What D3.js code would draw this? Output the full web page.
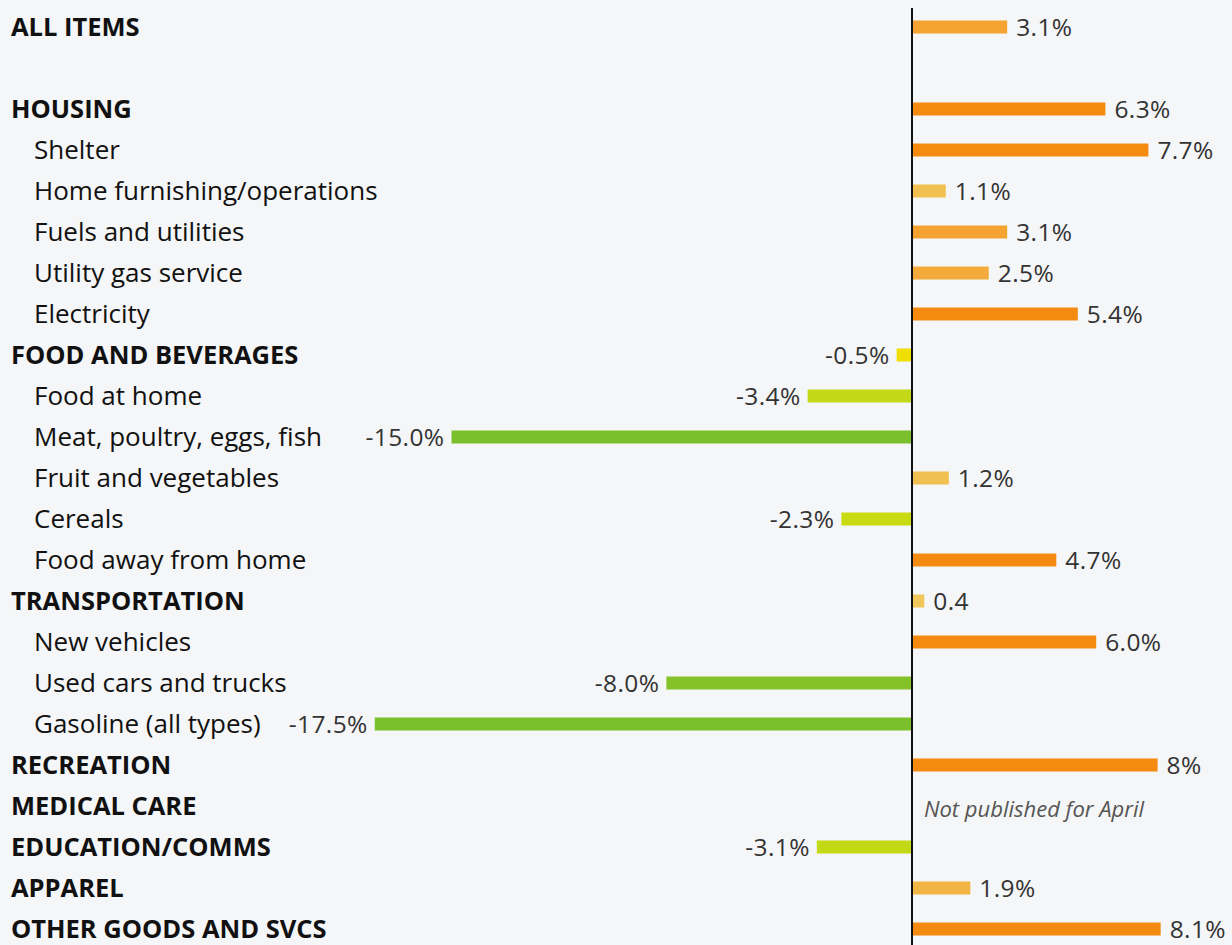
<!DOCTYPE html>
<html>
<head>
<meta charset="utf-8">
<script src="https://cdn.jsdelivr.net/npm/d3@7"></script>
<style>
  html, body { margin: 0; padding: 0; background: #f5f6f7; }
  svg { display: block; }
  .label { font-family: "Open Sans", sans-serif; font-size: 26px; fill: #111; }
  .label.top { font-weight: 700; font-size: 25.5px; }
  .value { font-family: "Open Sans", sans-serif; font-size: 24.5px; letter-spacing: 0.4px; fill: #333; }
  .note { font-family: "Open Sans", sans-serif; font-size: 22px; font-style: italic; fill: #555; }
</style>
</head>
<body>
<svg id="chart"></svg>
<script>
const WIDTH = 1232;
const HEIGHT = 945;

// rows of the chart, top to bottom; "" is the blank spacer row
const categories = [
  "ALL ITEMS", "",
  "HOUSING", "Shelter", "Home furnishing/operations", "Fuels and utilities",
  "Utility gas service", "Electricity",
  "FOOD AND BEVERAGES", "Food at home", "Meat, poultry, eggs, fish",
  "Fruit and vegetables", "Cereals", "Food away from home",
  "TRANSPORTATION", "New vehicles", "Used cars and trucks", "Gasoline (all types)",
  "RECREATION", "MEDICAL CARE", "EDUCATION/COMMS", "APPAREL", "OTHER GOODS AND SVCS",
];
const isTopLevel = [
  true, false,
  true, false, false, false, false, false,
  true, false, false, false, false, false,
  true, false, false, false,
  true, true, true, true, true,
];
// percent change, null = no bar
const values = [
  3.1, null,
  6.3, 7.7, 1.1, 3.1, 2.5, 5.4,
  -0.5, -3.4, -15.0, 1.2, -2.3, 4.7,
  0.4, 6.0, -8.0, -17.5,
  8, null, -3.1, 1.9, 8.1,
];
const valueLabels = [
  "3.1%", "",
  "6.3%", "7.7%", "1.1%", "3.1%", "2.5%", "5.4%",
  "-0.5%", "-3.4%", "-15.0%", "1.2%", "-2.3%", "4.7%",
  "0.4", "6.0%", "-8.0%", "-17.5%",
  "8%", "", "-3.1%", "1.9%", "8.1%",
];
const NOTE_ROW = 19;
const NOTE_TEXT = "Not published for April";

const svg = d3.select("#chart").attr("width", WIDTH).attr("height", HEIGHT);

const X_ZERO = 912;
const PX_PER_PCT = 30.7;
const xScale = d3.scaleLinear([0, 1], [X_ZERO, X_ZERO + PX_PER_PCT]);
const yScale = d3.scalePoint(d3.range(categories.length), [27, 929]);

const BAR_H = 13;

const colorScale = d3.scaleLinear()
  .domain([-15, -8, -3.4, -2.3, -0.5, 0.4, 1.2, 2.5, 3.1, 4.7])
  .range(["#7bbf2c", "#85c22a", "#c3d816", "#c8da12", "#f0e002",
          "#f0c75a", "#f0c050", "#f4ab3c", "#f4a230", "#f48a10"])
  .clamp(true);

const rows = categories.map((name, i) => ({
  i, name, top: isTopLevel[i], value: values[i], label: valueLabels[i],
}));

// category labels
svg.append("g").selectAll("text")
  .data(rows.filter(d => d.name))
  .join("text")
  .attr("class", d => d.top ? "label top" : "label")
  .attr("x", d => d.top ? 11 : 34)
  .attr("y", d => yScale(d.i))
  .attr("dy", "0.35em")
  .text(d => d.name);

const withBars = rows.filter(d => d.value !== null);

// bars
svg.append("g").selectAll("rect")
  .data(withBars)
  .join("rect")
  .attr("x", d => Math.min(xScale(0), xScale(d.value)))
  .attr("y", d => yScale(d.i) - BAR_H / 2)
  .attr("width", d => Math.abs(xScale(d.value) - xScale(0)))
  .attr("height", BAR_H)
  .attr("fill", d => colorScale(d.value));

// value labels
svg.append("g").selectAll("text")
  .data(withBars)
  .join("text")
  .attr("class", "value")
  .attr("x", d => d.value >= 0 ? xScale(d.value) + 9 : xScale(d.value) - 7)
  .attr("y", d => yScale(d.i))
  .attr("dy", "0.35em")
  .attr("text-anchor", d => d.value >= 0 ? "start" : "end")
  .text(d => d.label);

svg.append("text")
  .attr("class", "note")
  .attr("x", X_ZERO + 12)
  .attr("y", yScale(NOTE_ROW) + 3)
  .attr("dy", "0.35em")
  .text(NOTE_TEXT);

// zero line
svg.append("line")
  .attr("x1", xScale(0)).attr("x2", xScale(0))
  .attr("y1", 8).attr("y2", HEIGHT)
  .attr("stroke", "#111")
  .attr("stroke-width", 2);
</script>
</body>
</html>
